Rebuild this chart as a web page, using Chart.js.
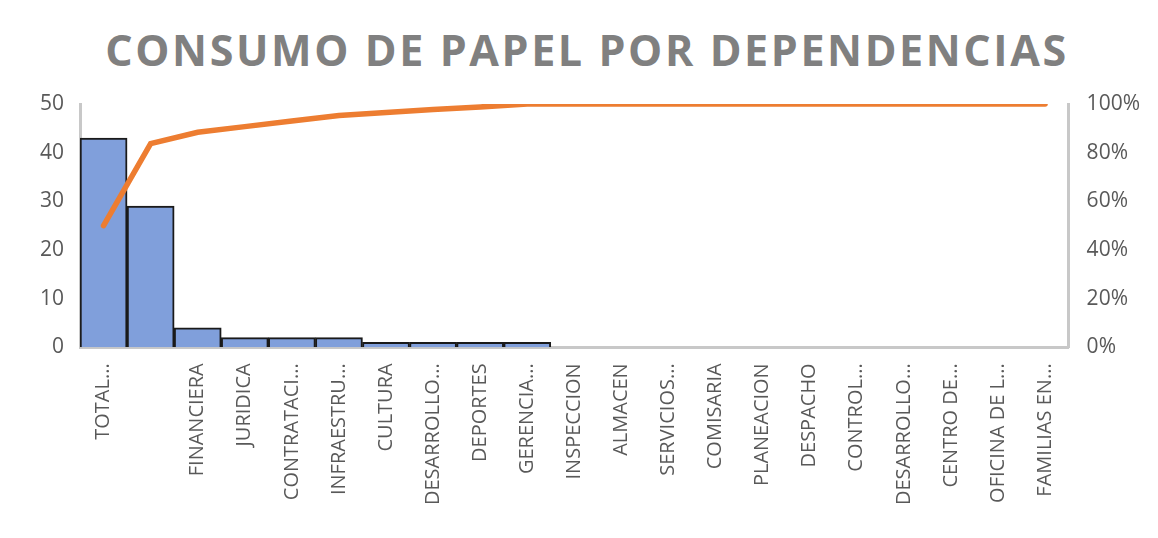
<!DOCTYPE html>
<html>
<head>
<meta charset="utf-8">
<script src="https://cdn.jsdelivr.net/npm/chart.js@4"></script>
<style>
  body { margin: 0; background: #fff; }
  #wrap { position: relative; width: 1158px; height: 538px; }
  #title {
    position: absolute; left: 8px; top: 22px; width: 1158px; text-align: center;
    font-family: "Open Sans", sans-serif; font-weight: bold; font-size: 43px;
    letter-spacing: 2.6px; color: #808080; line-height: 56px;
  }
  canvas { position: absolute; left: 0; top: 0; }
</style>
</head>
<body>
<div id="wrap">
  <div id="title">CONSUMO DE PAPEL POR DEPENDENCIAS</div>
  <canvas id="paretoChart" width="1158" height="538"></canvas>
</div>
<script>
// Departments (labels as truncated in the original)
const departments = [
  'TOTAL...', '', 'FINANCIERA', 'JURIDICA', 'CONTRATACI...', 'INFRAESTRU...',
  'CULTURA', 'DESARROLLO...', 'DEPORTES', 'GERENCIA...', 'INSPECCION',
  'ALMACEN', 'SERVICIOS...', 'COMISARIA', 'PLANEACION', 'DESPACHO',
  'CONTROL...', 'DESARROLLO...', 'CENTRO DE...', 'OFICINA DE L...', 'FAMILIAS EN...'
];

// Paper consumption per department
const consumption = [43, 29, 4, 2, 2, 2, 1, 1, 1, 1, 0, 0, 0, 0, 0, 0, 0, 0, 0, 0, 0];

// Cumulative share (%)
const cumulativePct = [50, 83.7, 88.4, 90.7, 93, 95.3, 96.5, 97.7, 98.8, 100,
  100, 100, 100, 100, 100, 100, 100, 100, 100, 100, 100];

const ctx = document.getElementById('paretoChart').getContext('2d');
const tickFont = { family: 'Open Sans', size: 21 };

new Chart(ctx, {
  data: {
    labels: departments,
    datasets: [{
      type: 'line',
      label: 'Acumulado',
      data: cumulativePct,
      yAxisID: 'y1',
      borderColor: '#ED7D31',
      borderWidth: 5.5,
      borderCapStyle: 'round',
      pointRadius: 0,
      tension: 0,
      order: 0
    }, {
      type: 'bar',
      label: 'Consumo',
      data: consumption,
      yAxisID: 'y',
      backgroundColor: '#809fdb',
      borderColor: '#1a1a1a',
      borderWidth: 2,
      borderSkipped: 'bottom',
      categoryPercentage: 1,
      barPercentage: 1,
      order: 1
    }]
  },
  options: {
    responsive: false,
    animation: false,
    layout: { padding: { top: 104, left: 24, right: 0, bottom: 17 } },
    plugins: {
      legend: { display: false },
      title: { display: false },
      tooltip: { enabled: false }
    },
    scales: {
      x: {
        grid: { display: false, drawTicks: false },
        border: { color: '#c8c8c8', width: 3 },
        ticks: {
          color: '#595959',
          font: { family: 'Open Sans', size: 20 },
          minRotation: 90,
          maxRotation: 90,
          autoSkip: false,
          padding: 16
        }
      },
      y: {
        position: 'left',
        min: 0,
        max: 50,
        grid: { display: false, drawTicks: false },
        border: { color: '#c8c8c8', width: 3 },
        ticks: { stepSize: 10, color: '#595959', font: tickFont, padding: 16 }
      },
      y1: {
        position: 'right',
        min: 0,
        max: 100,
        grid: { display: false, drawTicks: false },
        border: { color: '#c8c8c8', width: 3 },
        ticks: {
          stepSize: 20, color: '#595959', font: tickFont, padding: 18,
          callback: v => v + '%'
        }
      }
    }
  }
});
</script>
</body>
</html>
